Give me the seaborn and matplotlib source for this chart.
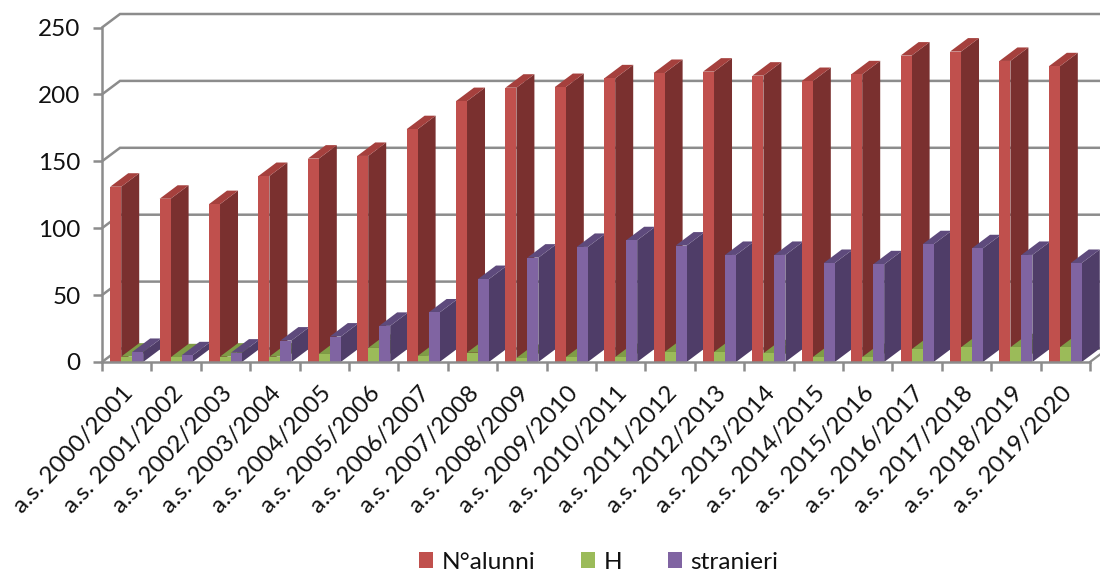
import matplotlib
matplotlib.use("Agg")
import matplotlib.pyplot as plt
from matplotlib.patches import Polygon
import pandas as pd
import seaborn as sns

years = ["a.s. %d/%d" % (y, y + 1) for y in range(2000, 2020)]
alunni = [131, 122, 118, 139, 152, 154, 174, 195, 205, 205.5, 212, 216, 217, 214, 210, 215, 229, 232, 225, 221]
h = [4, 3.5, 4, 4, 6, 10.5, 4.5, 7, 3, 3.7, 3.7, 7.5, 7.5, 6.5, 3.7, 3.7, 9.5, 11, 11, 11]
stranieri = [7.5, 5, 7, 16, 19, 27, 37, 62, 78, 86, 91, 87, 80, 80, 74, 73, 88, 85, 80, 74]
series = ["N°alunni", "H", "stranieri"]
palette = ["#C0504D", "#9BBB59", "#8064A2"]
side = ["#7A302F", "#6E8A3A", "#4F3D68"]
top = ["#A5403D", "#7F9C46", "#5E4A7C"]
FONT = "Lato"

df = pd.DataFrame({"anno": years * 3,
                   "serie": [series[0]] * 20 + [series[1]] * 20 + [series[2]] * 20,
                   "valore": alunni + h + stranieri})

sns.set_theme(style="white", rc={"font.family": FONT})
W, H = 1100, 572
fig = plt.figure(figsize=(W / 100, H / 100), dpi=100)
x0, x1, y0, y1 = 102, 1090, 362, 27.5
ax = fig.add_axes([x0 / W, 1 - y0 / H, (x1 - x0) / W, (y0 - y1) / H])
sns.barplot(df, x="anno", y="valore", hue="serie", palette=palette, width=0.667, gap=0,
            saturation=1, errorbar=None, ax=ax, zorder=3, linewidth=0, edgecolor="none")
ax.set_xlim(-0.5, 19.5)
ax.set_ylim(0, 250)
ax.set_xlabel("")
ax.set_ylabel("")

DX = 18 / ((x1 - x0) / 20)
DY = 13.5 / ((y0 - y1) / 250)
GRID = "#8C8C8C"

# back wall grid lines with the diagonal on the side wall
for v in [0, 50, 100, 150, 200, 250]:
    ax.plot([-0.5, -0.5 + DX, 19.5 + DX], [v, v + DY, v + DY], color=GRID, lw=1.8,
            clip_on=False, zorder=1, solid_joinstyle="miter")
# floor right edge
ax.plot([19.5, 19.5 + DX], [0, DY], color=GRID, lw=1.6, clip_on=False, zorder=1)

# depth faces from the bars themselves
for s, cont in enumerate(ax.containers[:3]):
    for i, b in enumerate(cont.patches):
        xa, xb = b.get_x(), b.get_x() + b.get_width()
        v = b.get_height()
        z = 3 + i * 3 + s * 0.9
        ax.add_patch(Polygon([(xb, 0), (xb + DX, DY), (xb + DX, v + DY), (xb, v)], closed=True,
                             fc=side[s], ec="none", zorder=z, clip_on=False))
        ax.add_patch(Polygon([(xa, v), (xa + DX, v + DY), (xb + DX, v + DY), (xb, v)], closed=True,
                             fc=top[s], ec="none", zorder=z, clip_on=False))
        b.set_zorder(z + 0.1)
        b.set_clip_on(False)

for sp in ["top", "right"]:
    ax.spines[sp].set_visible(False)
for sp in ["left", "bottom"]:
    ax.spines[sp].set_color(GRID)
    ax.spines[sp].set_linewidth(1.8)
    ax.spines[sp].set_zorder(200)

ax.set_yticks([0, 50, 100, 150, 200, 250])
ax.set_xticks([i - 0.5 for i in range(21)], minor=False)
ax.set_xticklabels([""] * 21)
ax.tick_params(axis="both", length=6.5, width=1.8, color=GRID, left=True, bottom=True)
ax.tick_params(axis="y", labelsize=17.5, pad=9, labelcolor="#111111")
ax.tick_params(axis="x", length=6.5, pad=6)
for i, lab in enumerate(years):
    ax.annotate(lab, xy=(i + 0.5, 0), xycoords=("data", "axes fraction"), xytext=(-21, -15),
                textcoords="offset points", rotation=47, ha="right", va="top", rotation_mode="anchor",
                fontsize=17.5, color="#111111", family=FONT)

sns.move_legend(ax, "lower left", bbox_to_anchor=(421 / W - 0.002, 1 - 575 / H + 0.004),
                bbox_transform=fig.transFigure, ncol=3, frameon=False, title=None, fontsize=17.6,
                handlelength=0.58, handleheight=0.58, handletextpad=0.34, columnspacing=1.88,
                labelcolor="#111111", borderpad=0, borderaxespad=0)
fig.savefig("out.png", dpi=100)
